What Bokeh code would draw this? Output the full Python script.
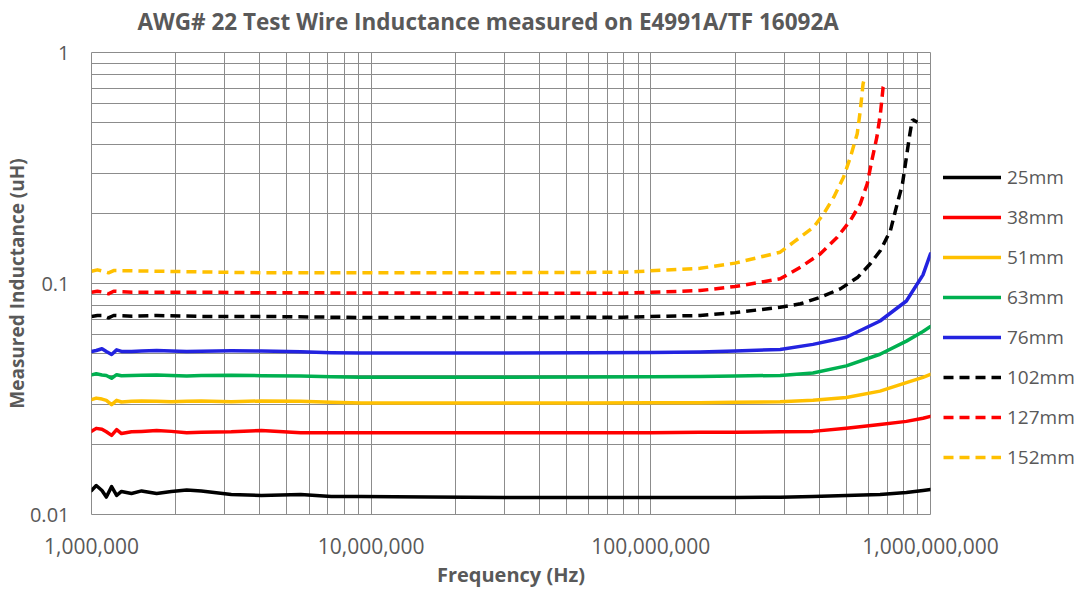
from bokeh.plotting import figure
from bokeh.models import (Range1d, FixedTicker, NumeralTickFormatter, Legend,
                          LegendItem, Title)
from bokeh.embed import file_html
from bokeh.resources import INLINE

# ---------------- data ----------------
SERIES_NAMES = ["25mm", "38mm", "51mm", "63mm", "76mm", "102mm", "127mm", "152mm"]

F_SOLID = [1.00e6, 1.04e6, 1.09e6, 1.13e6, 1.18e6, 1.23e6, 1.28e6, 1.39e6, 1.51e6,
           1.71e6, 1.93e6, 2.19e6, 2.47e6, 3.16e6, 4.05e6, 5.6e6, 7.2e6, 9.2e6,
           1.6e7, 3.0e7, 6.0e7, 1.0e8, 1.5e8, 2.0e8, 2.9e8, 3.8e8, 5.0e8, 6.6e8,
           8.2e8, 9.4e8, 1.0e9]

L_25MM = [0.0127, 0.01335, 0.0127, 0.0119, 0.0132, 0.0121, 0.01258, 0.01233, 0.01265,
          0.01233, 0.01258, 0.01277, 0.01265, 0.01221, 0.01209, 0.0122, 0.01197, 0.01197,
          0.0119, 0.01185, 0.01185, 0.01185, 0.01185, 0.01185, 0.01188, 0.01197, 0.01209,
          0.01222, 0.01246, 0.0127, 0.01283]

L_38MM = [0.0229, 0.0236, 0.0234, 0.0228, 0.0220, 0.0233, 0.0224, 0.0228, 0.0229,
          0.0231, 0.0229, 0.0226, 0.0227, 0.0228, 0.0231, 0.0226, 0.0226, 0.0226,
          0.0226, 0.0226, 0.0226, 0.0226, 0.0227, 0.0227, 0.0228, 0.0229, 0.0236,
          0.0245, 0.0253, 0.0261, 0.0266]

L_51MM = [0.0314, 0.0319, 0.0316, 0.0312, 0.0299, 0.0312, 0.0307, 0.0309, 0.0310,
          0.0309, 0.0308, 0.0309, 0.0310, 0.0308, 0.0310, 0.0309, 0.0306, 0.0304,
          0.0304, 0.0304, 0.0304, 0.0305, 0.0305, 0.0306, 0.0308, 0.0312, 0.0321,
          0.0342, 0.0372, 0.0392, 0.0404]

L_63MM = [0.0402, 0.0407, 0.0402, 0.0400, 0.0389, 0.0403, 0.0399, 0.0400, 0.0401,
          0.0402, 0.0400, 0.0398, 0.0400, 0.0401, 0.0399, 0.0398, 0.0395, 0.0393,
          0.0393, 0.0393, 0.0394, 0.0395, 0.0396, 0.0398, 0.0400, 0.0410, 0.0440,
          0.0494, 0.0563, 0.0620, 0.0651]

L_76MM = [0.0508, 0.0513, 0.0522, 0.0508, 0.0493, 0.0516, 0.0508, 0.0508, 0.0510,
          0.0513, 0.0510, 0.0508, 0.0509, 0.0511, 0.0510, 0.0507, 0.0502, 0.0500,
          0.0500, 0.0500, 0.0501, 0.0503, 0.0505, 0.0510, 0.0518, 0.0545, 0.0585,
          0.0688, 0.0840, 0.1090, 0.1345]

F_102MM = [1.0e6, 1.05e6, 1.1e6, 1.15e6, 1.2e6, 1.4e6, 1.71e6, 2.5e6, 4e6, 1e7, 3e7,
           8e7, 1.5e8, 2.0e8, 2.9e8, 3.43e8, 4.04e8, 4.76e8, 5.5e8, 6.09e8, 6.62e8,
           7.19e8, 7.55e8, 7.94e8, 8.2e8, 8.44e8, 8.6e8, 8.69e8, 8.98e8]
L_102MM = [0.0720, 0.0727, 0.0727, 0.0710, 0.0727, 0.0722, 0.0727, 0.0720, 0.0720,
           0.0712, 0.0712, 0.0715, 0.0727, 0.0748, 0.0789, 0.0817, 0.0872, 0.0948,
           0.1065, 0.1217, 0.1390, 0.1696, 0.2140, 0.2700, 0.3520, 0.4450, 0.5080,
           0.5100, 0.4990]

F_127MM = [1.0e6, 1.05e6, 1.1e6, 1.15e6, 1.2e6, 1.4e6, 1.71e6, 2.5e6, 4e6, 1e7, 3e7,
           8e7, 1.5e8, 2.0e8, 2.9e8, 3.43e8, 4.04e8, 4.64e8, 5.17e8, 5.61e8, 5.94e8,
           6.17e8, 6.43e8, 6.62e8, 6.77e8, 6.81e8]
L_127MM = [0.0917, 0.0926, 0.0917, 0.0902, 0.0926, 0.0917, 0.0917, 0.0917, 0.0912,
           0.0910, 0.0908, 0.0908, 0.0932, 0.0970, 0.1048, 0.1177, 0.1345, 0.1586,
           0.1874, 0.2213, 0.2700, 0.3410, 0.4300, 0.5430, 0.7080, 0.7200]

F_152MM = [1.0e6, 1.05e6, 1.1e6, 1.15e6, 1.2e6, 1.71e6, 3.5e6, 7e6, 1.5e7, 4e7, 8e7,
           1.5e8, 2.0e8, 2.9e8, 3.24e8, 3.82e8, 4.15e8, 4.51e8, 4.89e8, 5.17e8, 5.47e8,
           5.61e8, 5.74e8, 5.77e8]
L_152MM = [0.1130, 0.1146, 0.1130, 0.1112, 0.1138, 0.1130, 0.1115, 0.1112, 0.1112,
           0.1115, 0.1119, 0.1163, 0.1225, 0.1366, 0.1510, 0.1754, 0.2003, 0.2364,
           0.2890, 0.3520, 0.4450, 0.5610, 0.7320, 0.7510]

X_TICKS = [1e6, 1e7, 1e8, 1e9]
Y_TICKS = [0.01, 0.1, 1]

TITLE = "AWG# 22 Test Wire Inductance measured on E4991A/TF 16092A"
X_LABEL = "Frequency (Hz)"
Y_LABEL = "Measured Inductance (uH)"

# ---------------- styling ----------------
GRID = "#8c8c8c"
TEXT = "#595959"
FONT = "Open Sans"
COLORS = ["#000000", "#FF0000", "#FFC000", "#00B050", "#2323E0",
          "#000000", "#FF0000", "#FFC000"]
DASHED = [False, False, False, False, False, True, True, True]

FRAME_W, FRAME_H = 839, 462

p = figure(x_axis_type="log", y_axis_type="log",
           x_range=Range1d(1e6, 1e9), y_range=Range1d(0.01, 1),
           frame_width=FRAME_W, frame_height=FRAME_H,
           min_border_left=91, min_border_right=149,
           min_border_top=52, min_border_bottom=75,
           output_backend="svg", toolbar_location=None,
           background_fill_color="white", border_fill_color="white",
           outline_line_color=GRID, outline_line_width=1)

# spacer between the title and the plot frame, then the title itself
spacer = Title(text=" ", text_font=FONT, text_font_size="2px", standoff=5)
title = Title(text=TITLE, align="left", offset=46, vertical_align="top",
              standoff=8, text_font=FONT, text_font_style="bold",
              text_font_size="22.5px", text_color=TEXT)
p.add_layout(spacer, "above")
p.add_layout(title, "above")

x_minor = [m * 10 ** k for k in range(6, 9) for m in range(2, 10)]
y_minor = [m * 10.0 ** k for k in range(-2, 0) for m in range(2, 10)]
xt = FixedTicker(ticks=X_TICKS, minor_ticks=x_minor)
yt = FixedTicker(ticks=Y_TICKS, minor_ticks=y_minor)
p.xaxis.ticker = xt
p.yaxis.ticker = yt
p.xgrid.ticker = xt
p.ygrid.ticker = yt
p.xaxis.formatter = NumeralTickFormatter(format="0,0")
p.yaxis.formatter = NumeralTickFormatter(format="0.[00]")

for ax in (p.xaxis, p.yaxis):
    ax.axis_line_color = None
    ax.major_tick_line_color = None
    ax.minor_tick_line_color = None
    ax.major_tick_out = 0
    ax.minor_tick_out = 0
    ax.major_label_text_font = FONT
    ax.major_label_text_color = TEXT
    ax.axis_label_text_font = FONT
    ax.axis_label_text_font_style = "bold"
    ax.axis_label_text_color = TEXT

p.xaxis.major_label_text_font_size = "21px"
p.yaxis.major_label_text_font_size = "20px"
p.xaxis.axis_label_text_font_size = "20px"
p.yaxis.axis_label_text_font_size = "19px"
p.xaxis.major_label_standoff = 23
p.yaxis.major_label_standoff = 22
p.xaxis.axis_label_standoff = 4
p.yaxis.axis_label_standoff = -3
p.xaxis.axis_label = X_LABEL
p.yaxis.axis_label = Y_LABEL

p.grid.grid_line_color = GRID
p.grid.grid_line_width = 1
p.grid.minor_grid_line_color = GRID
p.grid.minor_grid_line_width = 1

data = [(F_SOLID, L_25MM), (F_SOLID, L_38MM), (F_SOLID, L_51MM), (F_SOLID, L_63MM),
        (F_SOLID, L_76MM), (F_102MM, L_102MM), (F_127MM, L_127MM), (F_152MM, L_152MM)]

items = []
for name, (fx, ly), col, dashed in zip(SERIES_NAMES, data, COLORS, DASHED):
    kw = dict(line_color=col, line_width=3.5, line_join="round")
    if dashed:
        kw["line_dash"] = "10 6"
    else:
        kw["line_cap"] = "round"
    r = p.line(fx, ly, **kw)
    items.append(LegendItem(label=name, renderers=[r]))

legend = Legend(items=items, location=(13, 44), orientation="vertical",
                glyph_width=58, glyph_height=26, label_height=26, spacing=14,
                padding=0, margin=0, border_line_color=None,
                background_fill_alpha=0, label_text_font=FONT,
                label_text_font_size="19px", label_text_color=TEXT,
                label_standoff=6)
p.add_layout(legend, "right")

open("out.html", "w").write(file_html(p, INLINE))
